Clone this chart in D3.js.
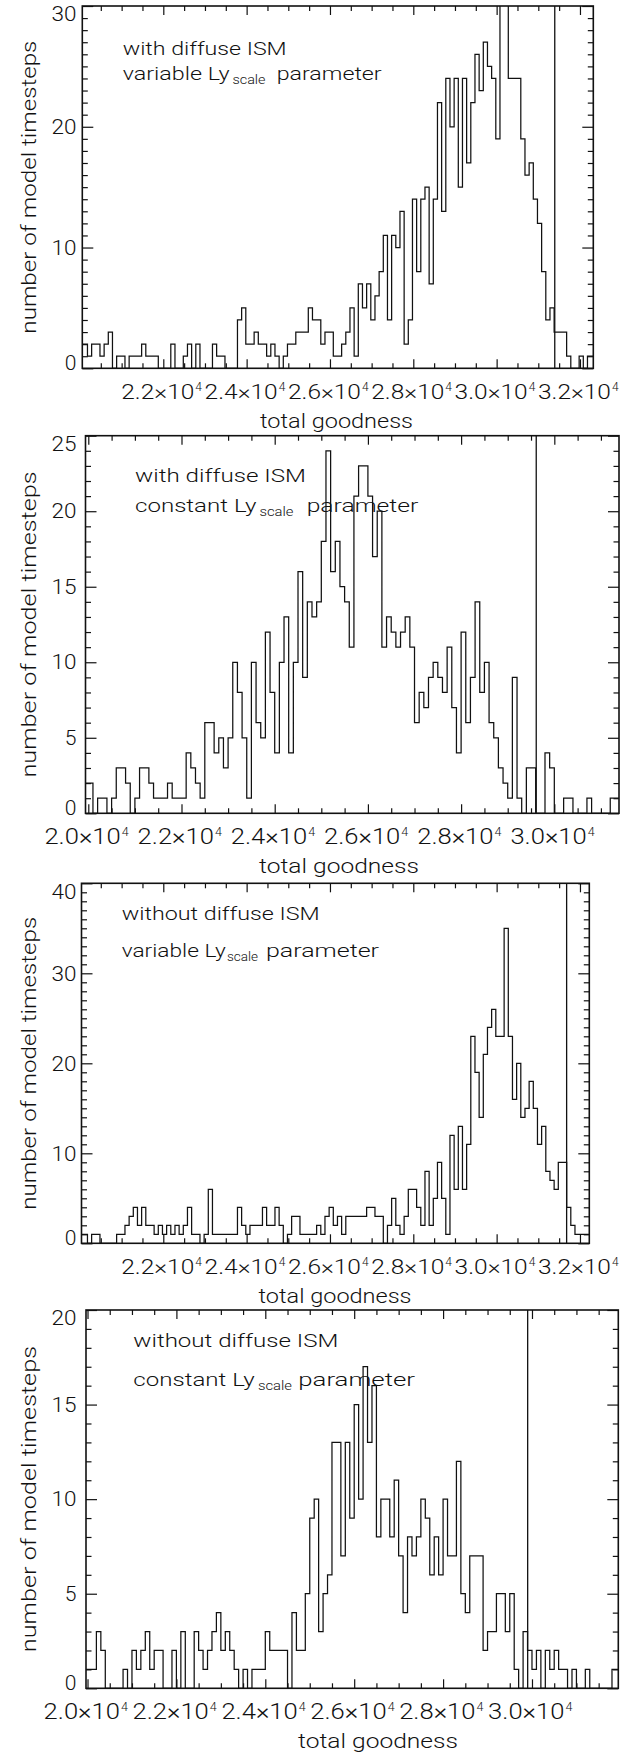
<!DOCTYPE html>
<html>
<head>
<meta charset="utf-8">
<script src="https://cdn.jsdelivr.net/npm/d3@7"></script>
<style>
  html, body { margin: 0; padding: 0; background: #fff; }
  svg text { font-family: Roboto, "DejaVu Sans", sans-serif; font-weight: 300; fill: #111; }
</style>
</head>
<body>
<svg id="chart" width="643" height="1753"></svg>
<script>
// ---------------------------------------------------------------
// Histograms of total goodness over model timesteps (100-wide bins)
// ---------------------------------------------------------------
const binWidth = 100;

// Run A: with diffuse ISM, variable Ly_scale
const startA = 19980;
const countsA = [2, 2, 1, 2, 2, 1, 2, 3, 0, 1, 1, 0, 1, 1, 1, 2, 1, 1, 1, 0,
  0, 0, 2, 0, 0, 1, 2, 0, 2, 0, 0, 0, 2, 1, 1, 0, 0, 0, 4, 5,
  2, 2, 3, 2, 2, 1, 2, 1, 0, 1, 2, 2, 3, 3, 3, 5, 4, 4, 2, 3,
  3, 1, 1, 2, 3, 5, 1, 7, 5, 7, 4, 6, 8, 11, 4, 11, 10, 13, 2, 4,
  14, 8, 14, 15, 7, 14, 22, 13, 24, 20, 24, 15, 24, 17, 22, 26, 23, 27, 25, 24,
  19, 31, 31, 24, 24, 24, 19, 16, 17, 14, 12, 8, 4, 5, 3, 3, 3, 1, 0, 0,
  1, 0, 1, 1];
const markerA = 31395;
const rangeA = [20056, 32320];

// Run B: with diffuse ISM, constant Ly_scale
const startB = 19900;
const countsB = [2, 2, 0, 1, 1, 0, 1, 3, 3, 2, 0, 1, 3, 3, 2, 1, 1, 1, 2, 1,
  1, 1, 4, 3, 2, 1, 6, 6, 4, 5, 3, 5, 10, 8, 5, 1, 10, 6, 5, 12,
  8, 4, 10, 13, 4, 10, 16, 9, 14, 13, 14, 18, 24, 16, 18, 15, 14, 11, 21, 23,
  23, 21, 17, 20, 11, 13, 12, 11, 12, 13, 11, 6, 8, 7, 9, 10, 9, 8, 11, 7,
  4, 12, 6, 9, 14, 8, 10, 6, 5, 3, 2, 1, 9, 1, 0, 3, 3, 0, 0, 4,
  3, 0, 0, 1, 1, 0, 0, 0, 1, 0, 0, 0, 0, 1, 1];
const markerB = 29612;
const rangeB = [19940, 31388];

// Run C: without diffuse ISM, variable Ly_scale
const startC = 19980;
const countsC = [1, 1, 0, 1, 1, 0, 0, 0, 0, 1, 1, 2, 3, 4, 2, 4, 2, 2, 1, 2,
  1, 2, 1, 2, 1, 2, 4, 1, 1, 0, 1, 6, 1, 1, 1, 1, 1, 1, 4, 2,
  1, 2, 2, 2, 4, 2, 2, 4, 2, 0, 1, 3, 3, 1, 1, 1, 1, 2, 1, 3,
  4, 2, 3, 1, 3, 3, 3, 3, 3, 4, 4, 3, 3, 0, 2, 5, 2, 1, 3, 6,
  6, 4, 2, 8, 2, 5, 9, 5, 1, 12, 6, 13, 6, 11, 23, 19, 14, 21, 24, 26,
  23, 23, 35, 23, 16, 20, 14, 15, 18, 15, 11, 13, 8, 7, 6, 9, 9, 4, 2, 1,
  1, 1, 1];
const markerC = 31680;
const rangeC = [20037, 32224];

// Run D: without diffuse ISM, constant Ly_scale
const startD = 19900;
const countsD = [1, 1, 1, 3, 2, 0, 0, 0, 0, 1, 0, 2, 1, 2, 3, 1, 2, 2, 0, 0,
  2, 0, 3, 0, 0, 3, 2, 1, 2, 3, 4, 2, 3, 2, 1, 0, 1, 0, 1, 1,
  1, 3, 2, 2, 2, 2, 0, 4, 2, 2, 5, 9, 10, 3, 5, 6, 13, 13, 7, 13,
  9, 15, 10, 17, 13, 16, 8, 10, 10, 8, 11, 7, 4, 8, 7, 8, 10, 9, 6, 8,
  6, 10, 7, 7, 12, 5, 4, 7, 7, 7, 2, 3, 3, 5, 5, 3, 5, 1, 0, 3,
  2, 1, 2, 0, 2, 1, 2, 1, 1, 0, 1, 0, 0, 1, 0, 0, 0, 0, 0, 1, 1];
const markerD = 29903;
const rangeD = [19966, 31942];

// Axis extents and labelling
const yMaxA = 30, yMaxB = 25, yMaxC = 40, yMaxD = 20;
const yMajorA = 10, yMajorB = 5, yMajorC = 10, yMajorD = 5;
const xMajorStep = 2000, xMinorStep = 500, yMinorStep = 1;
const xTitle = "total goodness";
const yTitle = "number of model timesteps";
const noteLine1 = ["with diffuse ISM", "with diffuse ISM", "without diffuse ISM", "without diffuse ISM"];
const noteLine2 = ["variable Ly", "constant Ly", "variable Ly", "constant Ly"];
const noteSub = "scale";
const noteTail = "parameter";

// ---------------------------------------------------------------
// Panel geometry (pixels) and text placement
// ---------------------------------------------------------------
const panels = [
  { start: startA, counts: countsA, marker: markerA, range: rangeA, yMax: yMaxA, yMajor: yMajorA,
    box: { left: 82.3, right: 593.3, top: 6, bottom: 368.3 },
    textScale: 1, titleX: 336.5,
    note: { x: 122.7, y1: 54.5, y2: 79.5, w1: 164, w2: 107, subX: 232.5, subW: 33, tailX: 276.7, tailW: 105 } },
  { start: startB, counts: countsB, marker: markerB, range: rangeB, yMax: yMaxB, yMajor: yMajorB,
    box: { left: 85.5, right: 619, top: 435.7, bottom: 813.3 },
    textScale: 1.045, titleX: 339,
    note: { x: 135, y1: 482, y2: 512, w1: 171, w2: 121.5, subX: 259.5, subW: 34, tailX: 306.7, tailW: 111.6 } },
  { start: startC, counts: countsC, marker: markerC, range: rangeC, yMax: yMaxC, yMajor: yMajorC,
    box: { left: 81.5, right: 589.3, top: 883.3, bottom: 1243.3 },
    textScale: 1, titleX: 335,
    note: { x: 121.7, y1: 920, y2: 957, w1: 198, w2: 104, subX: 227, subW: 31, tailX: 266, tailW: 113 } },
  { start: startD, counts: countsD, marker: markerD, range: rangeD, yMax: yMaxD, yMajor: yMajorD,
    box: { left: 86, right: 618.3, top: 1310, bottom: 1688.3 },
    textScale: 1.045, titleX: 378,
    note: { x: 133.3, y1: 1347, y2: 1385.5, w1: 205, w2: 121.5, subX: 258, subW: 34, tailX: 298.3, tailW: 116.7 } }
];

const svg = d3.select("#chart");
svg.append("rect").attr("width", 643).attr("height", 1753).attr("fill", "#fff");

const ink = "#111";
const tickFont = 20.5;

function multiples(lo, hi, step) {
  const out = [];
  for (let v = Math.ceil(lo / step) * step; v <= hi + 1e-9; v += step) out.push(v);
  return out;
}

panels.forEach((p, idx) => {
  const b = p.box;
  const s = p.textScale;
  const x = d3.scaleLinear().domain(p.range).range([b.left, b.right]);
  const y = d3.scaleLinear().domain([0, p.yMax]).range([b.bottom, b.top]);
  const g = svg.append("g");

  // clip region for the histogram
  const clipId = "clip" + idx;
  svg.append("clipPath").attr("id", clipId)
    .append("rect").attr("x", b.left).attr("y", b.top)
    .attr("width", b.right - b.left).attr("height", b.bottom - b.top);

  // stepped outline of the histogram
  const pts = p.counts.map((c, i) => ({ v: p.start + i * binWidth, c }));
  pts.push({ v: p.start + p.counts.length * binWidth, c: p.counts[p.counts.length - 1] });
  const line = d3.line().x(d => x(d.v)).y(d => y(d.c)).curve(d3.curveStepAfter);
  g.append("path").attr("d", line(pts))
    .attr("clip-path", `url(#${clipId})`)
    .attr("fill", "none").attr("stroke", ink).attr("stroke-width", 1.25)
    .attr("stroke-linejoin", "miter");

  // vertical reference line
  g.append("line")
    .attr("x1", x(p.marker)).attr("x2", x(p.marker))
    .attr("y1", b.top).attr("y2", b.bottom)
    .attr("stroke", ink).attr("stroke-width", 1.3);

  // ticks (inward) using d3 axes
  const xMajor = multiples(p.range[0], p.range[1], xMajorStep);
  const xMinor = multiples(p.range[0], p.range[1], xMinorStep).filter(v => v % xMajorStep !== 0);
  const yMajorVals = multiples(0, p.yMax, p.yMajor);
  const yMinorVals = multiples(0, p.yMax, yMinorStep).filter(v => v % p.yMajor !== 0);

  const axes = [
    [d3.axisBottom(x).tickValues(xMajor).tickSize(-9), `translate(0,${b.bottom})`],
    [d3.axisBottom(x).tickValues(xMinor).tickSize(-5), `translate(0,${b.bottom})`],
    [d3.axisTop(x).tickValues(xMajor).tickSize(-9), `translate(0,${b.top})`],
    [d3.axisTop(x).tickValues(xMinor).tickSize(-5), `translate(0,${b.top})`],
    [d3.axisLeft(y).tickValues(yMajorVals).tickSize(-11), `translate(${b.left},0)`],
    [d3.axisLeft(y).tickValues(yMinorVals).tickSize(-5.5), `translate(${b.left},0)`],
    [d3.axisRight(y).tickValues(yMajorVals).tickSize(-11), `translate(${b.right},0)`],
    [d3.axisRight(y).tickValues(yMinorVals).tickSize(-5.5), `translate(${b.right},0)`]
  ];
  axes.forEach(([ax, tr]) => {
    const a = g.append("g").attr("transform", tr)
      .call(ax.tickFormat("").tickSizeOuter(0));
    a.select(".domain").remove();
    a.selectAll(".tick line").attr("stroke", ink).attr("stroke-width", 1.2);
  });

  // frame
  g.append("rect")
    .attr("x", b.left).attr("y", b.top)
    .attr("width", b.right - b.left).attr("height", b.bottom - b.top)
    .attr("fill", "none").attr("stroke", ink).attr("stroke-width", 1.6);

  // x tick labels: m.m×10^4
  xMajor.forEach(v => {
    const cx = x(v);
    g.append("text")
      .attr("x", cx - 42 * s).attr("y", b.bottom + 31)
      .attr("font-size", tickFont * s)
      .attr("textLength", 73 * s).attr("lengthAdjust", "spacingAndGlyphs")
      .text((v / 1e4).toFixed(1) + "\u00d710");
    g.append("text")
      .attr("x", cx + 32 * s).attr("y", b.bottom + 23)
      .attr("font-size", 12 * s).text("4");
  });

  // y tick labels, kept inside the frame height
  yMajorVals.forEach(v => {
    const cy = Math.min(Math.max(y(v), b.top + 8), b.bottom - 5.5);
    const str = String(v);
    g.append("text")
      .attr("x", 76.5).attr("y", cy + 7.2)
      .attr("text-anchor", "end")
      .attr("font-size", tickFont)
      .attr("textLength", 13.3 * str.length - 1.6)
      .attr("lengthAdjust", "spacingAndGlyphs")
      .text(str);
  });

  // axis titles
  g.append("text")
    .attr("x", p.titleX).attr("y", b.bottom + 60)
    .attr("text-anchor", "middle").attr("font-size", 20 * s)
    .attr("textLength", 153 * s).attr("lengthAdjust", "spacingAndGlyphs")
    .text(xTitle);
  const cyT = (b.top + b.bottom) / 2;
  g.append("text")
    .attr("transform", `translate(36,${cyT}) rotate(-90)`)
    .attr("text-anchor", "middle").attr("font-size", 20)
    .attr("textLength", 293 * s).attr("lengthAdjust", "spacingAndGlyphs")
    .text(yTitle);

  // run description
  const n = p.note;
  g.append("text").attr("x", n.x).attr("y", n.y1).attr("font-size", 17.5)
    .attr("textLength", n.w1).attr("lengthAdjust", "spacingAndGlyphs")
    .text(noteLine1[idx]);
  g.append("text").attr("x", n.x).attr("y", n.y2).attr("font-size", 17.5)
    .attr("textLength", n.w2).attr("lengthAdjust", "spacingAndGlyphs")
    .text(noteLine2[idx]);
  g.append("text").attr("x", n.subX).attr("y", n.y2 + 4).attr("font-size", 12)
    .attr("textLength", n.subW).attr("lengthAdjust", "spacingAndGlyphs")
    .text(noteSub);
  g.append("text").attr("x", n.tailX).attr("y", n.y2).attr("font-size", 17.5)
    .attr("textLength", n.tailW).attr("lengthAdjust", "spacingAndGlyphs")
    .text(noteTail);
});
</script>
</body>
</html>
